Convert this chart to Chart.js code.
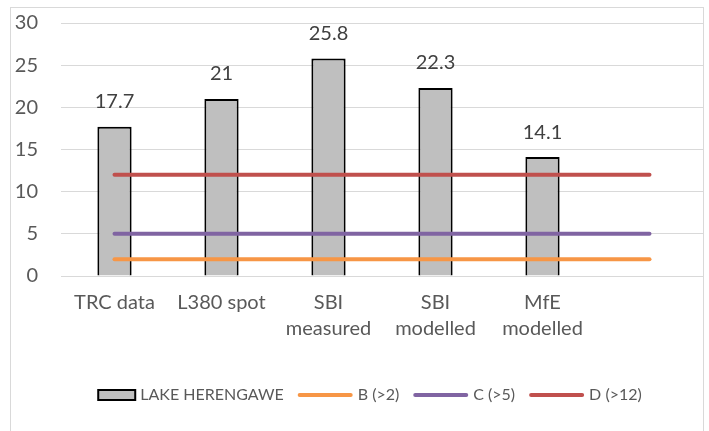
<!DOCTYPE html>
<html>
<head>
<meta charset="utf-8">
<script src="https://cdn.jsdelivr.net/npm/chart.js@4/dist/chart.umd.min.js"></script>
<style>
  html, body { margin: 0; padding: 0; background: #fff; }
  #wrap { position: relative; width: 709px; height: 431px; overflow: hidden; }
  #frame { position: absolute; left: 10px; top: 7px; width: 694px; height: 440px; border: 1px solid #d9d9d9; box-sizing: border-box; }
  canvas { position: absolute; left: 0; top: 0; }
</style>
</head>
<body>
<div id="wrap">
  <div id="frame"></div>
  <canvas id="c" width="709" height="431"></canvas>
</div>
<script>
const categories = ['TRC data', 'L380 spot', ['SBI', 'measured'], ['SBI', 'modelled'], ['MfE', 'modelled'], ''];
const lakeValues = [17.7, 21, 25.8, 22.3, 14.1, null];
const bValues = [2, 2, 2, 2, 2, 2];
const cValues = [5, 5, 5, 5, 5, 5];
const dValues = [12, 12, 12, 12, 12, 12];
const yTicks = [0, 5, 10, 15, 20, 25, 30];

const FONT = 'Lato, "Noto Sans", sans-serif';
const TXT = '#595959';

const dataLabels = {
  id: 'dataLabels',
  afterDatasetsDraw(chart) {
    const ctx = chart.ctx;
    const meta = chart.getDatasetMeta(0);
    ctx.save();
    ctx.font = '20px ' + FONT;
    ctx.fillStyle = '#404040';
    ctx.textAlign = 'center';
    ctx.textBaseline = 'middle';
    meta.data.forEach((bar, i) => {
      const v = lakeValues[i];
      if (v == null) return;
      ctx.fillText(String(v), bar.x, bar.y - 25);
    });
    ctx.restore();
  }
};

const customLegend = {
  id: 'customLegend',
  afterDraw(chart) {
    const ctx = chart.ctx;
    ctx.save();
    ctx.font = '16px ' + FONT;
    ctx.textBaseline = 'middle';
    const items = chart.data.datasets.map(ds => ({
      text: ds.label,
      isBar: ds.type === 'bar',
      color: ds.type === 'bar' ? ds.backgroundColor : ds.borderColor
    }));
    const barW = 37, lineW = 55, gapText = 5, gapItem = 14;
    let total = 0;
    items.forEach((it, i) => {
      total += (it.isBar ? barW : lineW) + gapText + ctx.measureText(it.text).width;
      if (i < items.length - 1) total += gapItem;
    });
    const cy = 395;
    let x = 370 - total / 2;
    items.forEach(it => {
      if (it.isBar) {
        ctx.fillStyle = it.color;
        ctx.fillRect(x, cy - 5, barW, 10);
        ctx.strokeStyle = '#000';
        ctx.lineWidth = 2;
        ctx.strokeRect(x, cy - 5, barW, 10);
        x += barW;
      } else {
        ctx.strokeStyle = it.color;
        ctx.lineWidth = 4;
        ctx.lineCap = 'round';
        ctx.beginPath();
        ctx.moveTo(x + 2, cy);
        ctx.lineTo(x + lineW - 2, cy);
        ctx.stroke();
        x += lineW;
      }
      x += gapText;
      ctx.fillStyle = TXT;
      ctx.textAlign = 'left';
      ctx.fillText(it.text, x, cy);
      x += ctx.measureText(it.text).width + gapItem;
    });
    ctx.restore();
  }
};

const lineDs = (label, data, color) => ({
  type: 'line', label, data,
  borderColor: color, backgroundColor: color,
  borderWidth: 4, borderCapStyle: 'round',
  pointRadius: 0, pointHoverRadius: 0, fill: false, tension: 0
});

new Chart(document.getElementById('c'), {
  data: {
    labels: categories,
    datasets: [
      {
        type: 'bar', label: 'LAKE HERENGAWE', data: lakeValues,
        backgroundColor: '#bfbfbf', borderColor: '#000000', borderWidth: 2,
        categoryPercentage: 1, barPercentage: 0.32, order: 2
      },
      Object.assign(lineDs('B (>2)', bValues, '#f79646'), { order: 1 }),
      Object.assign(lineDs('C (>5)', cValues, '#8064a2'), { order: 1 }),
      Object.assign(lineDs('D (>12)', dValues, '#c0504d'), { order: 1 })
    ]
  },
  options: {
    responsive: false,
    animation: false,
    events: [],
    layout: { padding: { left: 11, right: 6, top: 23, bottom: 75 } },
    plugins: { legend: { display: false }, tooltip: { enabled: false } },
    scales: {
      x: {
        grid: { display: false, drawTicks: false },
        border: { display: false },
        ticks: { color: TXT, font: { family: FONT, size: 20, lineHeight: 1.3 }, padding: 14, maxRotation: 0, autoSkip: false },
        afterFit(s) { s.height = 80; s.paddingLeft = 0; s.paddingRight = 0; }
      },
      y: {
        min: 0, max: 30,
        afterBuildTicks(s) { s.ticks = yTicks.map(v => ({ value: v })); },
        grid: { color: '#d9d9d9', lineWidth: 1, drawTicks: false },
        border: { display: false },
        ticks: { color: TXT, font: { family: FONT, size: 20 }, padding: 23 },
        afterFit(s) { s.width = 50; s.paddingTop = 0; s.paddingBottom = 0; }
      }
    }
  },
  plugins: [dataLabels, customLegend]
});
</script>
</body>
</html>
